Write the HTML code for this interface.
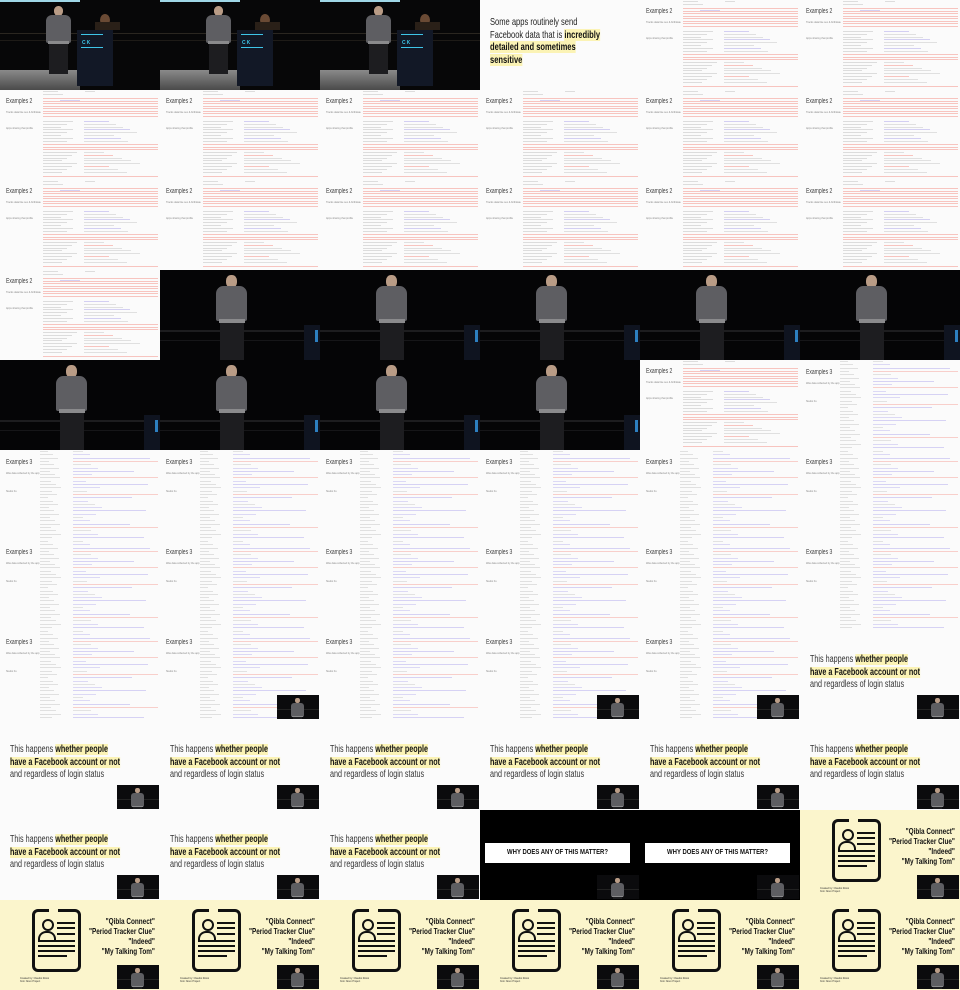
<!DOCTYPE html>
<html><head><meta charset="utf-8">
<style>
html,body{margin:0;padding:0;background:#fff;}
#sheet{position:relative;width:960px;height:990px;overflow:hidden;}
.f{position:absolute;width:160px;height:90px;overflow:hidden;}
.ab{position:absolute;}
.cond{font-family:"Liberation Sans",sans-serif;white-space:nowrap;}
.sq{transform:scaleX(0.72);transform-origin:left top;}
.sqr{transform:scaleX(0.75);transform-origin:right top;}
.hl{background:#fbf3b5;font-weight:bold;color:#111;}
.thumb{position:absolute;left:117px;top:65px;width:42px;height:24px;background:#0b0b0d;overflow:hidden;}
</style></head>
<body>
<div id="sheet"></div>
<script>
const layout = [
 ["stage","stage","stage","some","ex2","ex2"],
 ["ex2","ex2","ex2","ex2","ex2","ex2"],
 ["ex2","ex2","ex2","ex2","ex2","ex2"],
 ["ex2","spk","spk","spk","spk","spk"],
 ["spk","spk","spk","spk","ex2","ex3"],
 ["ex3","ex3","ex3","ex3","ex3","ex3"],
 ["ex3","ex3","ex3","ex3","ex3","ex3"],
 ["ex3","ex3t","ex3","ex3t","ex3t","hap"],
 ["hap","hap","hap","hap","hap","hap"],
 ["hap","hap","hap","why","why","doc"],
 ["doc","doc","doc","doc","doc","doc"]
];
function bar(x,y,w,h,c){return `<div class="ab" style="left:${x}px;top:${y}px;width:${w}px;height:${h}px;background:${c}"></div>`;}
function person(x,y,s){
  s=s||1;
  return `<div class="ab" style="left:${x+8*s}px;top:${y}px;width:${9*s}px;height:${10*s}px;border-radius:45%;background:#b99c86"></div>`+
  `<div class="ab" style="left:${x}px;top:${y+9*s}px;width:${25*s}px;height:${28*s}px;border-radius:${6*s}px ${6*s}px 2px 2px;background:#5e5e62"></div>`+
  `<div class="ab" style="left:${x+2*s}px;top:${y+35*s}px;width:${21*s}px;height:${3*s}px;background:#8a8a8c"></div>`+
  `<div class="ab" style="left:${x+3*s}px;top:${y+38*s}px;width:${19*s}px;height:${30*s}px;background:#1d1d20"></div>`;
}
function thumb(){return `<div class="thumb">${bar(0,14,42,1,'#222')}${person(14,3,0.5)}</div>`;}
function stage(){
  return `<div class="f" style="background:#070708">`+bar(0,0,80,2,'#9fd6e6')+bar(0,33,160,1,'#2a2620')+bar(0,40,160,1,'#1e1b17')+
  `<div class="ab" style="left:0;top:70px;width:80px;height:20px;background:linear-gradient(#8a8a8a,#4a4a4a)"></div>`+
  person(46,6,1)+
  `<div class="ab" style="left:77px;top:30px;width:36px;height:56px;background:#121826"></div>`+
  `<div class="ab" style="left:82px;top:40px;width:20px;height:5px;font:bold 5px 'Liberation Sans',sans-serif;color:#3ec5e8">C&#8201;K</div>`+
  bar(81,34,22,1,'#3ec5e8')+bar(81,47,22,1,'#3ec5e8')+
  `<div class="ab" style="left:100px;top:14px;width:10px;height:12px;border-radius:50%;background:#6a4a34"></div>`+
  bar(95,22,25,8,'#2a2018')+`</div>`;
}
function spk(i){
  return `<div class="f" style="background:#050506">`+bar(0,60,145,2,'#1d1d1f')+bar(0,70,145,1,'#161618')+
  bar(144,55,16,35,'#0f1420')+bar(155,60,3,12,'#2d7fc0')+person(56,5,1.25)+`</div>`;
}
function some(){
  return `<div class="f" style="background:#fbfbfb">`+
  `<div class="ab cond sq" style="left:10px;top:16px;font-size:10.5px;line-height:12.6px;color:#222">Some apps routinely send<br>Facebook data that is <span class="hl">incredibly</span><br><span class="hl">detailed and sometimes</span><br><span class="hl">sensitive</span></div></div>`;
}
function ex2(){
  let h=`<div class="f" style="background:#fbfbfb">`;
  h+=`<div class="ab cond sq" style="left:6px;top:8px;font-size:7px;color:#444">Examples 2</div>`;
  h+=`<div class="ab cond" style="left:6px;top:21px;font-size:2.5px;color:#888">Tracks data like sex &amp; birthdate</div>`;
  h+=`<div class="ab cond" style="left:6px;top:37px;font-size:2.5px;color:#888">Apps sharing that profile</div>`;
  h+=bar(43,1,15,1,'#ddd')+bar(85,1,10,1,'#ddd')+bar(43,4,20,1,'#ddd');
  for(let y=8;y<28;y+=2.5) h+=bar(43,y,115,1,'#f7c4bf');
  h+=bar(60,10,20,1,'#d3cff2');
  for(let k=0;k<8;k++){let y=31+k*2.8;h+=bar(43,y,30-(k%3)*6,1,'#dcdcdc')+bar(84,y,25+(k*7)%30,1,k%3==0?'#d3cff2':'#e0e0e0');}
  for(let y=54;y<60;y+=2.5) h+=bar(43,y,115,1,'#f7c4bf');
  for(let k=0;k<8;k++){let y=62+k*2.8;h+=bar(43,y,34-(k%4)*5,1,'#dcdcdc')+bar(84,y,20+(k*9)%40,1,k%4==1?'#f7c4bf':'#e0e0e0');}
  h+=bar(43,86,115,1,'#f7c4bf');
  return h+`</div>`;
}
function ex3(t){
  let h=`<div class="f" style="background:#fbfbfb">`;
  h+=`<div class="ab cond sq" style="left:6px;top:9px;font-size:7px;color:#444">Examples 3</div>`;
  h+=`<div class="ab cond" style="left:6px;top:22px;font-size:2.5px;color:#888">Was data collected by the app</div>`;
  h+=`<div class="ab cond" style="left:6px;top:40px;font-size:2.5px;color:#888">Studio Fu</div>`;
  for(let k=0;k<27;k++){let y=1+k*3.3;h+=bar(40,y,8+(k*5)%14,1,'#e0e0e0');
    if(k%4==2) h+=bar(73,y,55+(k*11)%30,1,'#d6d2f4'); else if(k%5==3) h+=bar(73,y,85,1,'#f8cfcb'); else h+=bar(73,y,10+(k*7)%20,1,k%2?'#dcd9f5':'#e2e2e2');}
  if(t) h+=thumb();
  return h+`</div>`;
}
function hap(){
  return `<div class="f" style="background:#fbfbfb">`+
  `<div class="ab cond sq" style="left:10px;top:24px;font-size:10px;line-height:12.7px;color:#333">This happens <span class="hl">whether people</span><br><span class="hl">have a Facebook account or not</span><br>and regardless of login status</div>`+thumb()+`</div>`;
}
function why(){
  return `<div class="f" style="background:#000">`+
  `<div class="ab" style="left:5px;top:33px;width:145px;height:20px;background:#fff"></div>`+
  `<div class="ab cond" style="left:5px;top:33px;width:145px;height:20px;font-weight:bold;font-size:7px;line-height:20px;text-align:center;color:#111;transform:scaleX(0.85)">WHY DOES ANY OF THIS MATTER?</div>`+thumb()+`</div>`;
}
function doc(){
  let h=`<div class="f" style="background:#fbf5cc">`;
  h+=`<div class="ab" style="left:32px;top:9px;width:43px;height:57px;border:3px solid #111;border-radius:6px"></div>`;
  h+=bar(49,8,9,5,'#fbf5cc');
  h+=`<div class="ab" style="left:42px;top:19px;width:8px;height:8px;border:2.5px solid #111;border-radius:50%"></div>`;
  h+=`<div class="ab" style="left:38px;top:31px;width:14px;height:7px;border:2.5px solid #111;border-bottom:none;border-radius:8px 8px 0 0"></div>`;
  h+=bar(57,22,18,2,'#111')+bar(57,27,18,2,'#111')+bar(57,33,18,2,'#111');
  h+=bar(38,40,37,2,'#111')+bar(38,45,37,2,'#111')+bar(38,50,37,2,'#111')+bar(38,55,29,2,'#111');
  h+=`<div class="ab cond sqr" style="right:5px;top:16px;text-align:right;font-size:8.5px;line-height:10px;font-weight:bold;color:#111">"Qibla Connect"<br>"Period Tracker Clue"<br>"Indeed"<br>"My Talking Tom"</div>`;
  h+=`<div class="ab cond" style="left:20px;top:77px;font-size:2.5px;color:#333;line-height:3px">Created by: Claudio Rossi<br>from Noun Project</div>`;
  h+=thumb();
  return h+`</div>`;
}
const makers={stage,spk,some,ex2,ex3:()=>ex3(false),ex3t:()=>ex3(true),hap,why,doc};
const sheet=document.getElementById('sheet');
layout.forEach((row,r)=>row.forEach((type,c)=>{
  const w=document.createElement('div');
  w.innerHTML=makers[type](c);
  const f=w.firstChild;
  f.style.left=(c*160)+'px';
  f.style.top=(r*90)+'px';
  
  
  sheet.appendChild(f);
}));
</script>
</body></html>
